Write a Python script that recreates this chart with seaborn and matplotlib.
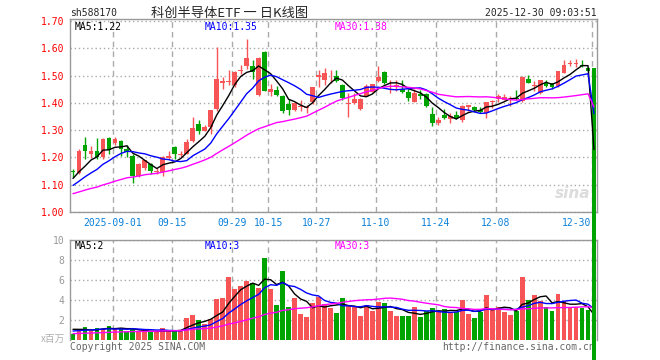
import numpy as np
import pandas as pd
import matplotlib
matplotlib.use("Agg")
import matplotlib.pyplot as plt
import seaborn as sns

# daily candles, 2025-08-21 .. 2025-12-30 (last row is the broken pre-open quote)
opens = [1.150, 1.142, 1.245, 1.212, 1.223, 1.203, 1.272, 1.252, 1.262, 1.232,
         1.205, 1.133, 1.162, 1.175, 1.146, 1.145, 1.199, 1.240, 1.210, 1.213,
         1.260, 1.322, 1.298, 1.311, 1.378, 1.472, 1.476, 1.465, 1.518, 1.536,
         1.536, 1.429, 1.588, 1.441, 1.449, 1.426, 1.397, 1.375, 1.385, 1.383,
         1.404, 1.494, 1.485, 1.505, 1.500, 1.466, 1.397, 1.400, 1.378, 1.426,
         1.441, 1.482, 1.515, 1.459, 1.457, 1.450, 1.439, 1.404, 1.433, 1.433,
         1.358, 1.327, 1.355, 1.340, 1.354, 1.337, 1.387, 1.386, 1.374, 1.362,
         1.402, 1.413, 1.410, 1.412, 1.418, 1.408, 1.487, 1.464, 1.437, 1.472,
         1.472, 1.462, 1.511, 1.544, 1.544, 1.539, 1.527, 1.527]
highs = [1.157, 1.231, 1.275, 1.242, 1.270, 1.270, 1.274, 1.276, 1.265, 1.245,
         1.211, 1.178, 1.192, 1.178, 1.162, 1.205, 1.225, 1.243, 1.222, 1.267,
         1.348, 1.338, 1.320, 1.375, 1.606, 1.495, 1.520, 1.517, 1.538, 1.635,
         1.558, 1.570, 1.590, 1.469, 1.461, 1.428, 1.414, 1.402, 1.412, 1.392,
         1.457, 1.522, 1.527, 1.522, 1.522, 1.470, 1.435, 1.435, 1.417, 1.468,
         1.470, 1.534, 1.517, 1.484, 1.484, 1.484, 1.450, 1.450, 1.447, 1.436,
         1.385, 1.350, 1.378, 1.362, 1.372, 1.392, 1.394, 1.388, 1.386, 1.404,
         1.410, 1.432, 1.432, 1.427, 1.447, 1.498, 1.503, 1.480, 1.484, 1.484,
         1.475, 1.518, 1.556, 1.556, 1.561, 1.556, 1.533, 1.527]
lows = [1.130, 1.140, 1.195, 1.198, 1.195, 1.195, 1.212, 1.247, 1.207, 1.200,
        1.105, 1.130, 1.153, 1.140, 1.140, 1.133, 1.196, 1.196, 1.203, 1.213,
        1.256, 1.286, 1.298, 1.286, 1.370, 1.450, 1.465, 1.457, 1.505, 1.524,
        1.489, 1.426, 1.443, 1.424, 1.426, 1.363, 1.355, 1.372, 1.370, 1.363,
        1.395, 1.460, 1.467, 1.472, 1.478, 1.410, 1.350, 1.398, 1.376, 1.424,
        1.440, 1.478, 1.470, 1.436, 1.445, 1.436, 1.409, 1.404, 1.413, 1.386,
        1.316, 1.320, 1.340, 1.326, 1.342, 1.330, 1.372, 1.366, 1.362, 1.345,
        1.380, 1.404, 1.410, 1.390, 1.410, 1.404, 1.472, 1.444, 1.434, 1.457,
        1.453, 1.457, 1.511, 1.535, 1.532, 1.531, 1.515, 0.0]
closes = [1.145, 1.222, 1.222, 1.223, 1.200, 1.268, 1.228, 1.268, 1.230, 1.220,
          1.132, 1.175, 1.190, 1.152, 1.149, 1.200, 1.205, 1.213, 1.214, 1.256,
          1.308, 1.298, 1.312, 1.373, 1.488, 1.482, 1.479, 1.515, 1.521, 1.564,
          1.512, 1.566, 1.444, 1.451, 1.430, 1.370, 1.373, 1.400, 1.388, 1.386,
          1.457, 1.503, 1.510, 1.508, 1.479, 1.419, 1.400, 1.416, 1.416, 1.463,
          1.470, 1.496, 1.474, 1.464, 1.466, 1.439, 1.419, 1.437, 1.424, 1.390,
          1.327, 1.337, 1.346, 1.352, 1.344, 1.389, 1.391, 1.374, 1.366, 1.404,
          1.406, 1.425, 1.421, 1.420, 1.415, 1.494, 1.472, 1.467, 1.484, 1.462,
          1.457, 1.518, 1.539, 1.547, 1.547, 1.535, 1.516, 0.0]
# volume, millions
volumes = [0.6, 1.07, 1.27, 0.93, 1.2, 1.07, 1.4, 1.07, 1.2, 0.93,
           1.07, 0.8, 0.8, 0.8, 0.8, 1.2, 0.9, 0.9, 1.0, 2.2,
           2.5, 2.0, 1.6, 2.07, 4.1, 4.23, 6.3, 5.1, 5.4, 5.9,
           5.73, 5.2, 8.2, 5.1, 3.5, 6.9, 3.33, 4.2, 2.6, 2.3,
           3.7, 4.3, 3.6, 3.2, 2.7, 4.2, 3.5, 3.33, 2.4, 3.47,
           2.9, 3.8, 3.7, 2.9, 2.4, 2.4, 2.4, 3.3, 2.3, 2.9,
           3.2, 2.9, 3.1, 2.7, 2.8, 4.0, 2.6, 2.2, 2.8, 4.5,
           3.0, 3.3, 2.8, 2.5, 2.9, 6.3, 4.0, 4.5, 3.9, 3.3,
           2.9, 4.6, 3.9, 3.2, 3.3, 3.2, 3.0, 0.0]

# sessions before the window, only needed for the moving averages
hist_close = [1.03, 1.02, 1.04, 1.05, 1.03, 1.04, 1.05, 1.04, 1.03, 1.05,
              1.06, 1.05, 1.07, 1.08, 1.06, 1.07, 1.06, 1.08, 1.07, 1.06,
              1.07, 1.06, 1.08, 1.07, 1.08, 1.10, 1.12, 1.11, 1.14]
hist_vol = [0.45, 0.5, 0.55, 0.4, 0.5, 0.6, 0.45, 0.5, 0.55, 0.5,
            0.45, 0.5, 0.6, 0.5, 0.45, 0.55, 0.5, 0.5, 0.45, 0.55,
            0.7, 0.8, 0.75, 0.7, 0.7, 1.1, 1.3, 1.2, 1.15]

tick_pos = [7, 17, 27, 33, 41, 51, 61, 71, 87]
tick_labels = ["2025-09-01", "09-15", "09-29", "10-15", "10-27", "11-10", "11-24", "12-08", "12-30"]
price_ticks = [1.00, 1.10, 1.20, 1.30, 1.40, 1.50, 1.60, 1.70]
vol_ticks = [2, 4, 6, 8, 10]

sns.set_style("white")
plt.rcParams["font.family"] = ["DejaVu Sans Mono", "Noto Sans CJK SC"]

UP, DOWN = "#f75555", "#00a400"
GRIDC = "#aaaaaa"
n = len(closes)
idx = np.arange(n)
o = np.array(opens); c = np.array(closes)
dirs = np.where(c >= o, "up", "down")
cols = np.where(c >= o, UP, DOWN)

pc = pd.Series(hist_close + closes)
pv = pd.Series(hist_vol + volumes)
ma_p = {k: pc.rolling(k).mean().iloc[-n:].to_numpy() for k in (5, 10, 30)}
ma_v = {k: pv.rolling(k).mean().iloc[-n:].to_numpy() for k in (5, 10, 30)}
ma_cols = {5: "black", 10: "#0000ff", 30: "#ff00ff"}

fig = plt.figure(figsize=(6.6, 3.6), dpi=100)
W, H = 660, 360
ax1 = fig.add_axes([70 / W, (H - 212) / H, 527 / W, 193 / H])
ax2 = fig.add_axes([70 / W, (H - 340) / H, 527 / W, 100 / H])
ax1.set_zorder(5)

# candles
ax1.vlines(idx, lows, highs, colors=cols, lw=1, zorder=3)
bottoms = np.minimum(o, c)
heights = np.maximum(np.abs(c - o), 0.0025)
bars = ax1.bar(idx, heights, bottom=bottoms, width=0.8, color=cols, lw=0, zorder=3)
bars.patches[-1].set_clip_on(False)

for k in (5, 10, 30):
    sns.lineplot(x=idx, y=ma_p[k], color=ma_cols[k], lw=1, ax=ax1, zorder=4)

ax1.text(83.5, 1.05, "sina", color="#dcdcdc", fontsize=11, style="italic", weight="bold",
         ha="center", family="DejaVu Sans", zorder=1)

# volume
sns.barplot(x=idx, y=volumes, hue=dirs, palette={"up": UP, "down": DOWN}, dodge=False,
            legend=False, width=0.8, saturation=1, errorbar=None, linewidth=0, ax=ax2)
for k in (5, 10, 30):
    sns.lineplot(x=idx, y=ma_v[k], color=ma_cols[k], lw=1, ax=ax2, zorder=4)

xt = [p - 0.4 for p in tick_pos]
for ax in (ax1, ax2):
    ax.set_xlim(-0.5, n - 0.5)
    ax.set_xticks(xt)
    ax.grid(axis="x", color=GRIDC, ls=(0, (4, 3)), lw=1)
    ax.grid(axis="y", color=GRIDC, ls=(0, (1, 2)), lw=1)
    ax.set_axisbelow(True)
    for s in ax.spines.values():
        s.set_color("#999999")
        s.set_linewidth(1)
    ax.set_xlabel("")
    ax.set_ylabel("")

ax1.set_ylim(1.0, 1.708)
ax1.set_yticks(price_ticks)
ax1.set_yticklabels([f"{v:.2f}" for v in price_ticks], color="red", fontsize=7)
ax1.set_xticklabels(tick_labels, color="#0a80d8", fontsize=7)
ax1.get_xticklabels()[-1].set_horizontalalignment("right")
ax1.tick_params(length=0, pad=4)

ax2.set_ylim(0, 10)
ax2.set_yticks(vol_ticks)
ax2.set_yticklabels([str(v) for v in vol_ticks], color="#999999", fontsize=7)
ax2.set_xticklabels([])
ax2.tick_params(length=0, pad=4)
ax2.spines["bottom"].set_visible(False)

# legends of the moving averages
def fy(y):
    return 1 - y / H

for x, txt, col in [(75, "MA5:1.22", "black"), (205, "MA10:1.35", "#0000ff"), (335, "MA30:1.38", "#ff00ff")]:
    fig.text(x / W, fy(27), txt, color=col, fontsize=7, va="center", zorder=10)
for x, txt, col in [(75, "MA5:2", "black"), (205, "MA10:3", "#0000ff"), (335, "MA30:3", "#ff00ff")]:
    fig.text(x / W, fy(246), txt, color=col, fontsize=7, va="center", zorder=10)

fig.text(70 / W, fy(13), "sh588170", fontsize=7, va="center")
fig.text(230 / W, fy(13), "科创半导体ETF 一 日K线图", fontsize=9.5, va="center", ha="center",
         family=["Noto Sans CJK SC", "DejaVu Sans"])
fig.text(597 / W, fy(13), "2025-12-30 09:03:51", fontsize=7, va="center", ha="right")
fig.text(65 / W, fy(339), "x百万", fontsize=7, va="center", ha="right", color="#b0b0b0",
         family=["Noto Sans CJK SC", "DejaVu Sans"])
fig.text(70 / W, fy(347), "Copyright 2025 SINA.COM", fontsize=7, va="center", color="#666666")
fig.text(442 / W, fy(347), "http://finance.sina.com.cn", fontsize=7, va="center", color="#666666", zorder=1)

fig.savefig("out.png", dpi=100)
